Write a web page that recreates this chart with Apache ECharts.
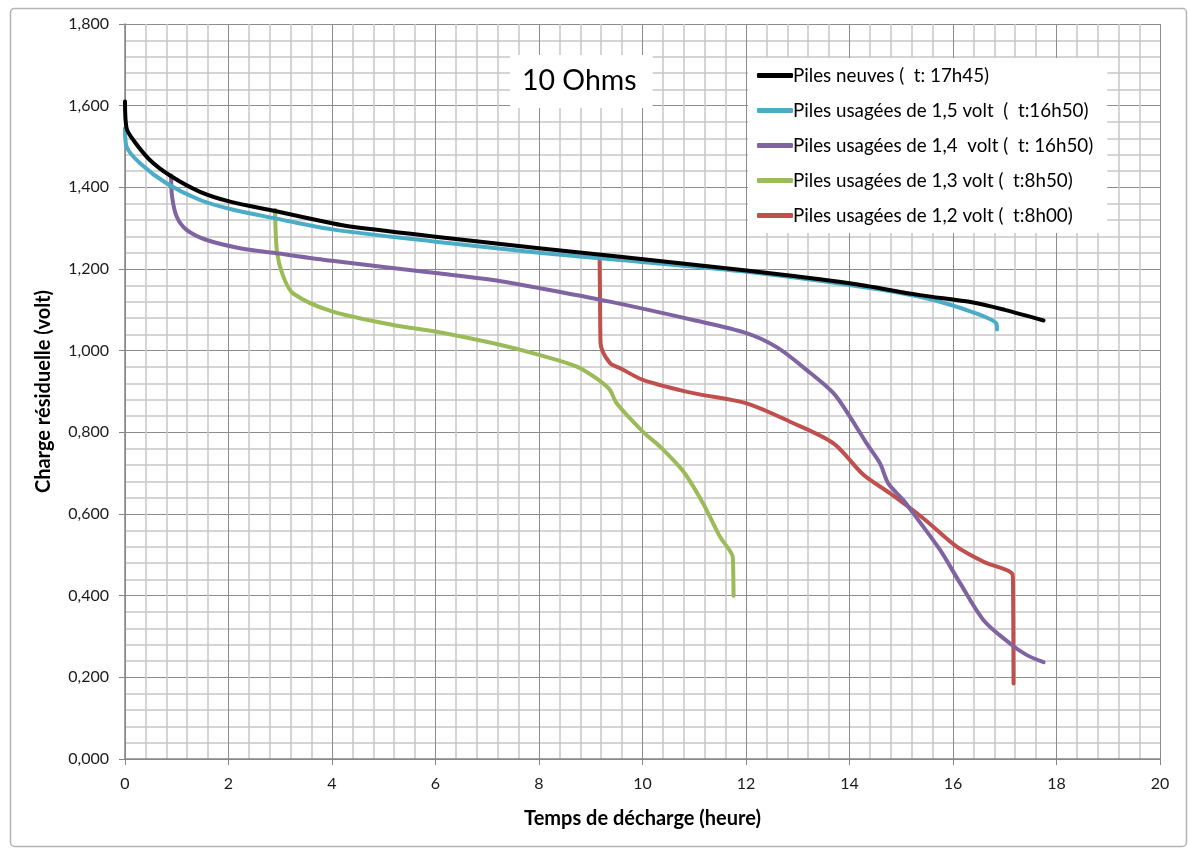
<!DOCTYPE html>
<html>
<head>
<meta charset="utf-8">
<title>10 Ohms</title>
<script src="https://cdn.jsdelivr.net/npm/echarts@6/dist/echarts.min.js"></script>
<style>
  html, body { margin: 0; padding: 0; background: #fff; }
  #chart { width: 1188px; height: 849px; }
</style>
</head>
<body>
<div id="chart"></div>
<script>
// temps (heure) / tension (volt)
const neuvesT = [0, 0.03, 0.16, 0.48, 0.87, 1.45, 2.03, 2.9, 4.0, 4.35, 6.0, 8.0, 9.57, 11.88, 14.0, 15.36, 16.39, 17.0, 17.75];
const neuvesV = [1.61, 1.545, 1.516, 1.467, 1.429, 1.389, 1.365, 1.342, 1.312, 1.304, 1.279, 1.251, 1.23, 1.198, 1.165, 1.136, 1.118, 1.1, 1.074];

const u15T = [0, 0.03, 0.29, 0.8, 1.45, 2.09, 2.9, 4.0, 6.0, 8.0, 9.57, 11.88, 14.0, 15.36, 16.39, 16.84, 16.85];
const u15V = [1.545, 1.5, 1.459, 1.41, 1.369, 1.345, 1.324, 1.297, 1.267, 1.24, 1.222, 1.195, 1.161, 1.132, 1.094, 1.066, 1.052];

const u14T = [0.89, 0.91, 1.0, 1.19, 1.58, 2.22, 2.9, 4.0, 6.0, 7.11, 8.02, 9.37, 10.98, 12.01, 12.6, 13.17, 13.69, 14.01, 14.33, 14.59, 14.75, 15.04, 15.23, 15.75, 16.14, 16.59, 17.1, 17.42, 17.75];
const u14V = [1.429, 1.377, 1.328, 1.296, 1.271, 1.251, 1.239, 1.22, 1.19, 1.173, 1.153, 1.12, 1.075, 1.043, 1.008, 0.953, 0.896, 0.838, 0.773, 0.724, 0.675, 0.634, 0.602, 0.512, 0.43, 0.34, 0.283, 0.255, 0.237];

const u13T = [2.9, 2.94, 3.06, 3.25, 4.0, 5.18, 6.0, 7.12, 8.02, 8.73, 9.11, 9.37, 9.5, 10.02, 10.34, 10.79, 11.17, 11.5, 11.74, 11.75, 11.76];
const u13V = [1.345, 1.239, 1.181, 1.14, 1.096, 1.063, 1.047, 1.018, 0.989, 0.961, 0.932, 0.904, 0.871, 0.8, 0.765, 0.704, 0.626, 0.544, 0.497, 0.48, 0.4];

const u12T = [9.17, 9.18, 9.19, 9.37, 9.57, 10.02, 10.98, 12.01, 12.85, 13.69, 14.27, 14.78, 15.43, 16.07, 16.59, 17.15, 17.16, 17.17];
const u12V = [1.234, 1.124, 1.018, 0.97, 0.957, 0.928, 0.896, 0.871, 0.826, 0.773, 0.696, 0.651, 0.589, 0.52, 0.483, 0.452, 0.43, 0.185];

const names = [
  "Piles neuves (  t: 17h45)",
  "Piles usagées de 1,5 volt  (  t:16h50)",
  "Piles usagées de 1,4  volt (  t: 16h50)",
  "Piles usagées de 1,3 volt (  t:8h50)",
  "Piles usagées de 1,2 volt (  t:8h00)",
];
const colors = ["#000000", "#4bacc6", "#8064a2", "#9bbb59", "#c0504d"];

const pairs = (t, v) => t.map((x, i) => [x, v[i]]);
const curves = [
  pairs(neuvesT, neuvesV),
  pairs(u15T, u15V),
  pairs(u14T, u14V),
  pairs(u13T, u13V),
  pairs(u12T, u12V),
];

const font = "Lato";
const chart = echarts.init(document.getElementById("chart"));

const option = {
  animation: false,
  backgroundColor: "#fff",
  textStyle: { fontFamily: font },
  title: {
    text: "10 Ohms",
    left: 510,
    top: 55,
    backgroundColor: "#fff",
    padding: [11, 16, 13, 12],
    textStyle: { fontSize: 28.5, fontWeight: "normal", color: "#000", fontFamily: font },
  },
  legend: {
    orient: "vertical",
    left: 748,
    top: 58,
    backgroundColor: "#fff",
    padding: [8, 14, 8, 9],
    icon: "roundRect",
    itemWidth: 36,
    itemHeight: 5,
    itemGap: 16,
    textStyle: { fontSize: 18.8, color: "#000", padding: [0, 0, 0, -5] },
    data: names,
  },
  grid: {
    left: 125,
    right: 28,
    top: 24,
    bottom: 90,
  },
  graphic: [
    {
      type: "rect",
      left: 8,
      top: 6,
      shape: { width: 1176, height: 838, r: 4 },
      style: { fill: "none", stroke: "#b4b4b4", lineWidth: 1.5 },
      silent: true,
    },
  ],
  xAxis: {
    type: "value",
    min: 0,
    max: 20,
    interval: 2,
    name: "Temps de décharge (heure)",
    nameLocation: "middle",
    nameGap: 50,
    nameTextStyle: { fontSize: 20, fontWeight: "bold", color: "#000" },
    axisLine: { show: true, lineStyle: { color: "#868686", width: 1.5 } },
    axisTick: { show: true, length: 6, lineStyle: { color: "#868686" } },
    axisLabel: { fontSize: 16, color: "#1a1a1a", margin: 17 },
    splitLine: { show: true, lineStyle: { color: "#8c8c8c", width: 1 } },
    minorTick: { show: false, splitNumber: 5 },
    minorSplitLine: { show: true, lineStyle: { color: "#c8c8c8", width: 1.5 } },
  },
  yAxis: {
    type: "value",
    min: 0,
    max: 1.8,
    interval: 0.2,
    name: "Charge résiduelle (volt)",
    nameLocation: "middle",
    nameGap: 71,
    nameTextStyle: { fontSize: 20, fontWeight: "bold", color: "#000" },
    axisLine: { show: true, lineStyle: { color: "#868686", width: 1.5 } },
    axisTick: { show: true, length: 6, lineStyle: { color: "#868686" } },
    axisLabel: {
      fontSize: 16,
      color: "#1a1a1a",
      margin: 16,
      formatter: (v) => v.toFixed(3).replace(".", ","),
    },
    splitLine: { show: true, lineStyle: { color: "#8c8c8c", width: 1 } },
    minorTick: { show: false, splitNumber: 5 },
    minorSplitLine: { show: true, lineStyle: { color: "#c8c8c8", width: 1.5 } },
  },
  series: curves.map((data, i) => ({
    name: names[i],
    type: "line",
    data: data,
    showSymbol: false,
    symbol: "none",
    smooth: 0.3,
    color: colors[i],
    lineStyle: { color: colors[i], width: 4, cap: "round", join: "round" },
    z: 5 - i,
  })),
};

chart.setOption(option);
</script>
</body>
</html>
